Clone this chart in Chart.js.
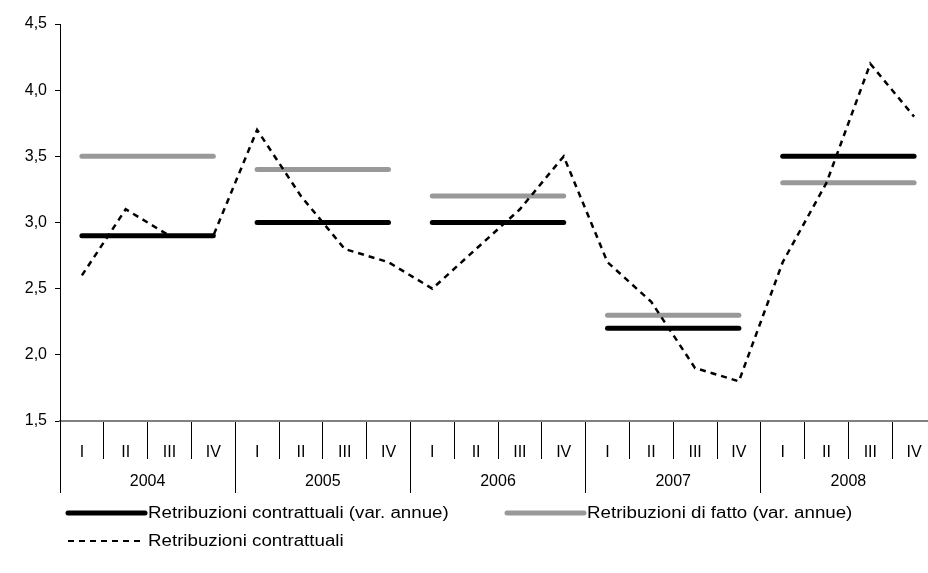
<!DOCTYPE html>
<html>
<head>
<meta charset="utf-8">
<script src="https://cdn.jsdelivr.net/npm/chart.js@4.4.0/dist/chart.umd.min.js"></script>
<style>
  body { margin: 0; overflow: hidden; background: #fff; font-family: "Liberation Sans", Arial, sans-serif; }
  #wrap { position: relative; width: 936px; height: 573px; }
  .legend-item { position: absolute; display: flex; align-items: center; height: 20px; font-size: 16px; color: #000; white-space: nowrap; }
  .legend-item svg { display: block; flex: none; }
  .legend-item span { display: inline-block; transform: scaleX(1.17); transform-origin: left center; }
</style>
</head>
<body>
<div id="wrap">
  <canvas id="chart" width="936" height="573"></canvas>
  <div id="legend"></div>
</div>
<script>
var quarters = ['I', 'II', 'III', 'IV', 'I', 'II', 'III', 'IV', 'I', 'II', 'III', 'IV',
                'I', 'II', 'III', 'IV', 'I', 'II', 'III', 'IV'];
var years = ['2004', '2005', '2006', '2007', '2008'];

// Retribuzioni contrattuali (quarterly)
var contrattuali = [2.6, 3.1, 2.9, 2.9,
                    3.7, 3.2, 2.8, 2.7,
                    2.5, 2.8, 3.1, 3.5,
                    2.7, 2.4, 1.9, 1.8,
                    2.7, 3.3, 4.2, 3.8];
// yearly rates
var contrattualiAnnue = [2.9, 3.0, 3.0, 2.2, 3.5];
var fattoAnnue = [3.5, 3.4, 3.2, 2.3, 3.3];

var labelContr = 'Retribuzioni contrattuali';
var labelContrAnnue = 'Retribuzioni contrattuali (var. annue)';
var labelFattoAnnue = 'Retribuzioni di fatto (var. annue)';

// spread a yearly value across its four quarters
function perQuarter(yearly) {
    var out = [];
    yearly.forEach(function (v) { out.push(v, v, v, v); });
    return out;
}

// no segment between Q4 and the next year's Q1
var yearGap = {
    borderColor: function (ctx) {
        return ctx.p0DataIndex % 4 === 3 ? 'rgba(0,0,0,0)' : undefined;
    }
};

var font = { family: '"Liberation Sans", Arial, sans-serif', size: 16 };

new Chart(document.getElementById('chart'), {
    type: 'line',
    data: {
        labels: quarters,
        datasets: [{
            label: labelContr,
            data: contrattuali,
            borderColor: '#000000',
            borderWidth: 2.5,
            borderDash: [6, 5],
            pointRadius: 0,
            tension: 0,
            fill: false
        }, {
            label: labelContrAnnue,
            data: perQuarter(contrattualiAnnue),
            borderColor: '#000000',
            borderWidth: 5,
            borderCapStyle: 'round',
            pointRadius: 0,
            segment: yearGap,
            fill: false
        }, {
            label: labelFattoAnnue,
            data: perQuarter(fattoAnnue),
            borderColor: '#999999',
            borderWidth: 5,
            borderCapStyle: 'round',
            pointRadius: 0,
            segment: yearGap,
            fill: false
        }]
    },
    options: {
        responsive: false,
        animation: false,
        layout: { padding: { top: 24, left: 0, right: 0, bottom: 80 } },
        plugins: {
            legend: { display: false },
            tooltip: { enabled: false }
        },
        scales: {
            x: {
                type: 'category',
                offset: true,
                weight: 0,
                afterFit: function (scale) { scale.height = 38; },
                grid: { offset: true, drawOnChartArea: false, drawTicks: true, tickLength: 38, color: '#000000', lineWidth: 1 },
                border: { display: true, color: '#808080', width: 2 },
                ticks: { color: '#000000', font: font, padding: -16.1, autoSkip: false, maxRotation: 0 }
            },
            x2: {
                type: 'category',
                position: 'bottom',
                labels: years,
                offset: true,
                weight: 1,
                afterFit: function (scale) { scale.height = 34; },
                grid: { offset: true, drawOnChartArea: false, drawTicks: true, tickLength: 34, color: '#000000', lineWidth: 1 },
                border: { display: false },
                ticks: { color: '#000000', font: font, padding: -20.6, autoSkip: false, maxRotation: 0 }
            },
            y: {
                min: 1.5,
                max: 4.5,
                afterFit: function (scale) { scale.width = 60; },
                grid: { drawOnChartArea: false, drawTicks: true, tickLength: 5, color: '#000000' },
                border: { display: true, color: '#000000', width: 1 },
                ticks: {
                    stepSize: 0.5,
                    color: '#000000',
                    font: font,
                    padding: 8,
                    callback: function (v) { return v.toFixed(1).replace('.', ','); }
                }
            }
        }
    }
});

// legend below the axes
var legendItems = [
    { text: labelContrAnnue, color: '#000000', width: 5, dash: null, left: 65, top: 503 },
    { text: labelFattoAnnue, color: '#999999', width: 5, dash: null, left: 504, top: 503 },
    { text: labelContr, color: '#000000', width: 2, dash: '6 5', left: 65, top: 531 }
];
var legend = document.getElementById('legend');
legendItems.forEach(function (it) {
    var div = document.createElement('div');
    div.className = 'legend-item';
    div.style.left = it.left + 'px';
    div.style.top = it.top + 'px';
    div.innerHTML =
        '<svg width="83" height="10"><line x1="3" y1="5" x2="80" y2="5" stroke="' + it.color +
        '" stroke-width="' + it.width + '" stroke-linecap="' + (it.dash ? 'butt' : 'round') + '"' +
        (it.dash ? ' stroke-dasharray="' + it.dash + '"' : '') + '/></svg>' +
        '<span>' + it.text + '</span>';
    legend.appendChild(div);
});
</script>
</body>
</html>
